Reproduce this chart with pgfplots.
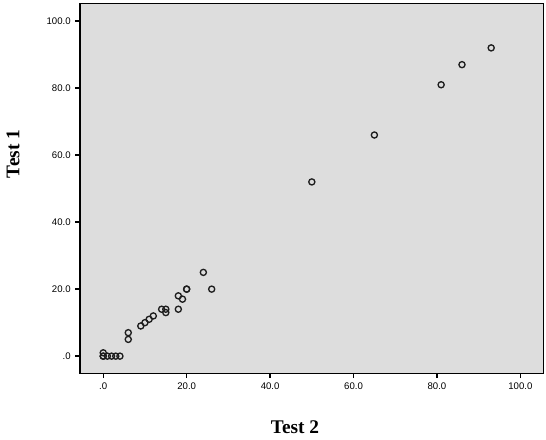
\documentclass[border=0pt]{standalone}
\usepackage{fontspec}
\setmainfont{Liberation Serif}
\newfontfamily\arial{Liberation Sans}
\usepackage{pgfplots}
\pgfplotsset{compat=1.18}
\definecolor{bgc}{RGB}{221,221,221}
\definecolor{ink}{RGB}{30,30,30}
\begin{document}
\begin{tikzpicture}
\begin{axis}[
  scale only axis,
  width=347.25pt, height=277.5pt,
  xmin=-5.56, xmax=105.5,
  ymin=-5.2, ymax=105.3,
  axis background/.style={fill=bgc},
  axis line style={line width=1pt, black},
  xtick={0,20,40,60,80,100},
  ytick={0,20,40,60,80,100},
  xticklabels={.0,20.0,40.0,60.0,80.0,100.0},
  yticklabels={.0,20.0,40.0,60.0,80.0,100.0},
  xtick pos=bottom, ytick pos=left,
  tick align=outside,
  major tick length=3.5pt,
  tick style={line width=1pt, black},
  ticklabel style={font=\arial\fontsize{7.2}{8}\selectfont},
  /pgf/number format/assume math mode=true,
  xlabel={Test 2}, ylabel={Test 1},
  xlabel style={at={(axis description cs:0.464,-0.145)}, anchor=center, font=\bfseries\fontsize{14.5}{16}\selectfont},
  ylabel style={at={(axis description cs:-0.1447,0.593)}, anchor=center, font=\bfseries\fontsize{14.5}{16}\selectfont},
  clip=false,
]
\addplot[only marks, mark=o, mark size=2.3pt, draw=ink, mark options={line width=1pt}] coordinates {
(93,92) (86,87) (81,81) (65,66) (50,52)
(26,20) (24,25) (20,20) (20,20) (19,17) (18,18) (18,14)
(15,14) (15,13) (14,14) (12,12) (11,11) (10,10) (9,9)
(6,7) (6,5) (0,1) (0,0) (0,0) (1,0) (2,0) (3,0) (4,0)
};
\end{axis}
\path ([shift={(-60pt,-49.3pt)}]current axis.south west) rectangle ([shift={(2pt,2.5pt)}]current axis.north east);
\end{tikzpicture}
\end{document}
